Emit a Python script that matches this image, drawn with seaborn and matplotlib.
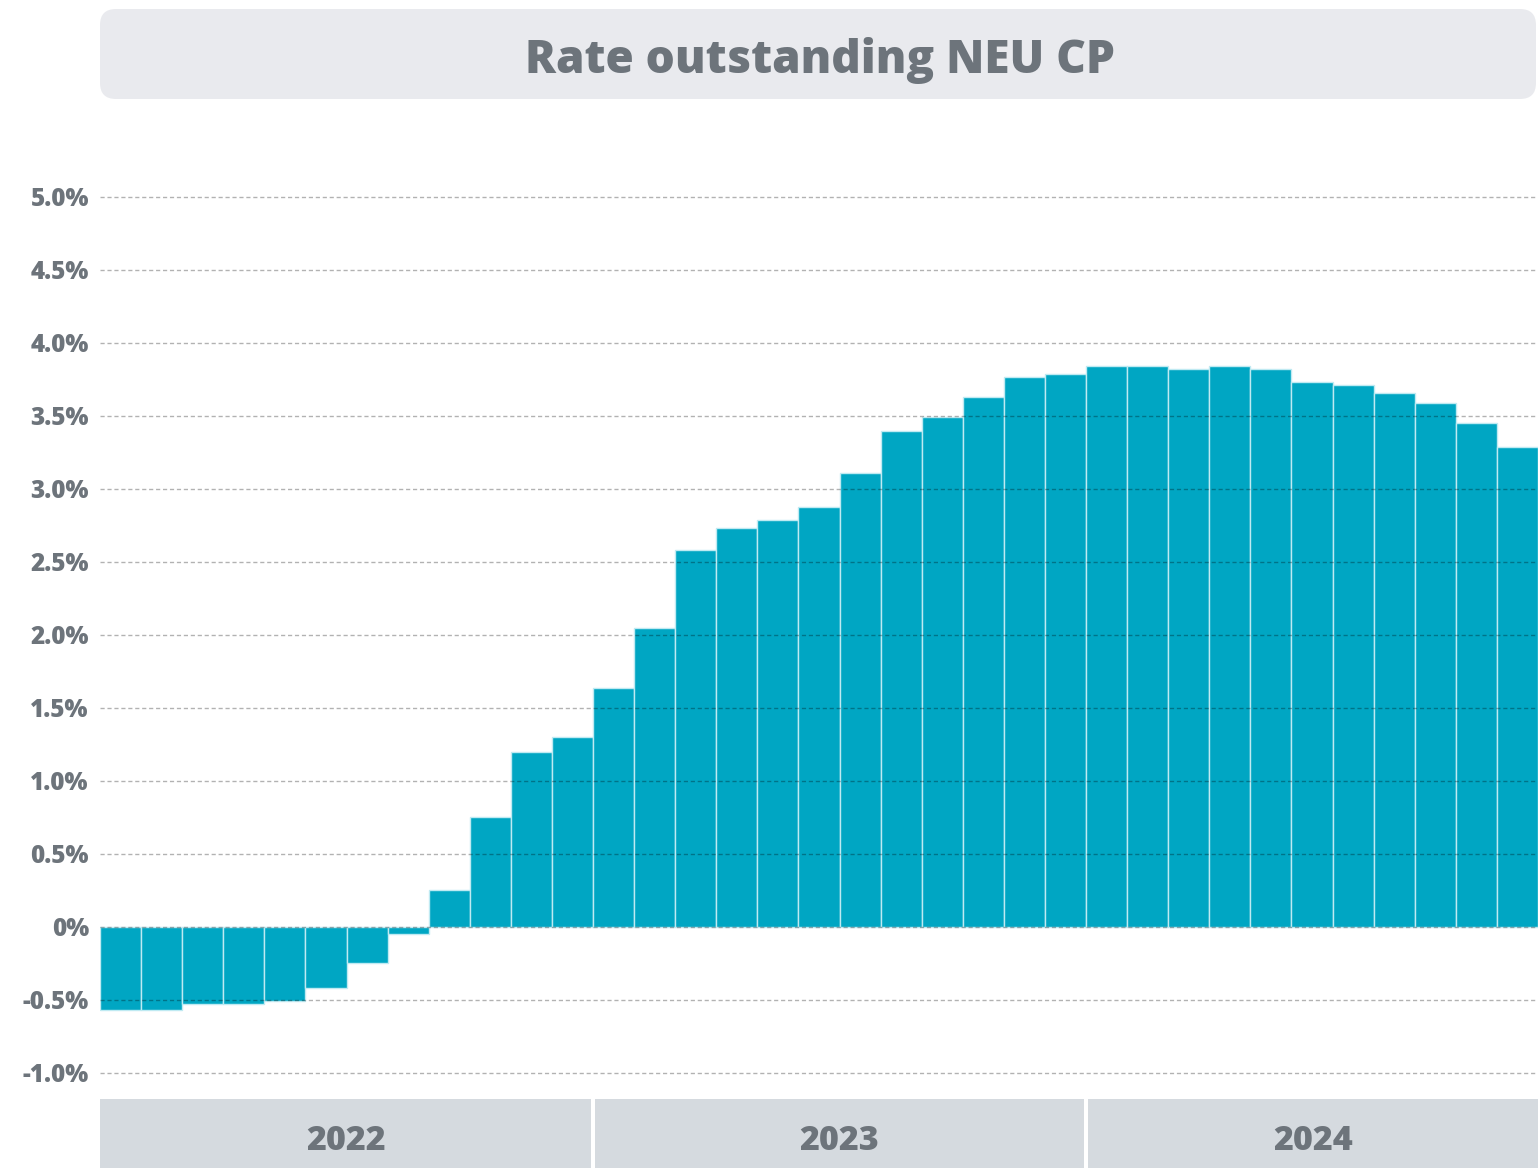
import matplotlib
matplotlib.use("Agg")
import matplotlib.pyplot as plt
from matplotlib.patches import FancyBboxPatch, Rectangle
from matplotlib.transforms import IdentityTransform, blended_transform_factory
import seaborn as sns
import pandas as pd

# Monthly outstanding NEU CP rate, Jan 2022 - Nov 2024 (%)
months = pd.date_range("2022-01-01", periods=35, freq="MS").strftime("%Y-%m").tolist()
rates = [-0.57, -0.57, -0.53, -0.53, -0.51, -0.42, -0.25, -0.05,
         0.25, 0.75, 1.20, 1.30,
         1.64, 2.05, 2.58, 2.73, 2.79, 2.88, 3.11, 3.40, 3.49, 3.63, 3.77, 3.79,
         3.84, 3.84, 3.82, 3.84, 3.82, 3.73, 3.71, 3.66, 3.59, 3.45, 3.29]
years = ["2022", "2023", "2024"]
year_spans = [(0, 11), (12, 23), (24, 34)]
y_ticks = [-1.0, -0.5, 0.0, 0.5, 1.0, 1.5, 2.0, 2.5, 3.0, 3.5, 4.0, 4.5, 5.0]
y_labels = ["-1.0%", "-0.5%", "0%", "0.5%", "1.0%", "1.5%", "2.0%", "2.5%",
            "3.0%", "3.5%", "4.0%", "4.5%", "5.0%"]
title = "Rate outstanding NEU CP"

BAR = "#00A6C3"
TEXT = "#6D747B"
TITLE_BG = "#E9EAEE"
BAND_BG = "#D5DADF"

sns.set_theme(style="white")
plt.rcParams["font.family"] = ["Open Sans", "DejaVu Sans"]

W, H = 1538, 1168
fig = plt.figure(figsize=(W / 100, H / 100), dpi=100)
ax = fig.add_axes([100 / W, 0.0751, 1438 / W, 0.7625])

df = pd.DataFrame({"month": months, "rate": rates})
sns.barplot(data=df, x="month", y="rate", color=BAR, saturation=1, width=1.0,
            edgecolor="#BFEAF2", linewidth=1.0, ax=ax, zorder=2)

ax.set_xlim(-0.5, len(months) - 0.5)
ax.set_ylim(-1.05, 5.05)
ax.set_yticks(y_ticks)
ax.set_yticklabels(y_labels)
ax.set_xticks([])
ax.set_xlabel("")
ax.set_ylabel("")
for s in ax.spines.values():
    s.set_visible(False)
ax.tick_params(axis="y", length=0, pad=8, labelsize=17.5, labelcolor=TEXT)
for lbl in ax.get_yticklabels():
    lbl.set_fontweight(800)

# dashed grid drawn over the bars
for v in y_ticks:
    ax.axhline(v, color="black", alpha=0.3, lw=1.0, ls=(0, (3, 2)), zorder=3)

# year bands beneath the plot
trans = blended_transform_factory(ax.transData, fig.transFigure)
for yr, (a, b) in zip(years, year_spans):
    x0 = a - 0.5 + (0.04 if a > 0 else 0)
    x1 = b + 0.5 - (0.04 if b < len(months) - 1 else 0)
    fig.patches.append(Rectangle((x0, 0), x1 - x0, 69 / H, transform=trans,
                                 facecolor=BAND_BG, edgecolor="none", zorder=0))
    fig.text((x0 + x1) / 2, 27 / H, yr, transform=trans, ha="center", va="center",
             fontsize=24.5, fontweight=800, color=TEXT)

# title banner
box = FancyBboxPatch((100, H - 99), 1436, 90,
                     boxstyle="round,pad=0,rounding_size=16",
                     transform=IdentityTransform(), facecolor=TITLE_BG,
                     edgecolor="none", zorder=0)
fig.patches.append(box)
fig.text(820 / W, (H - 60) / H, title, ha="center", va="center",
         fontsize=33, fontweight=800, color=TEXT)

fig.savefig("out.png", dpi=100, facecolor="white")
